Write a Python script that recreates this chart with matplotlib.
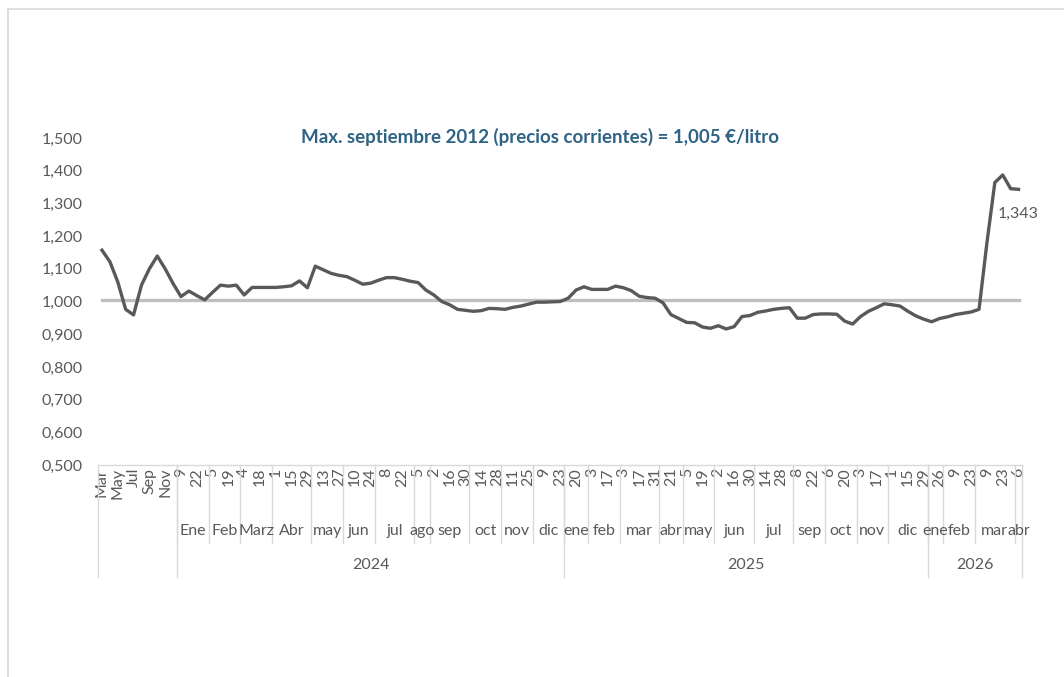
import matplotlib
matplotlib.use("Agg")
import matplotlib.pyplot as plt
from matplotlib.lines import Line2D
import numpy as np

plt.rcParams['font.family'] = ['Lato', 'DejaVu Sans']

# categorias (semanas) agrupadas por mes y por año
pre_labels = ["Mar", "Apr", "May", "Jun", "Jul", "Aug", "Sep", "Oct", "Nov", "Dec"]
month_groups = [
    ("", pre_labels),
    ("Ene", [9, 15, 22, 29]), ("Feb", [5, 12, 19, 26]), ("Marz", [4, 11, 18, 25]),
    ("Abr", [1, 8, 15, 22, 29]), ("may", [6, 13, 20, 27]), ("jun", [3, 10, 17, 24]),
    ("jul", [1, 8, 15, 22, 29]), ("ago", [5, 12]), ("sep", [2, 9, 16, 23, 30]),
    ("oct", [7, 14, 21, 28]), ("nov", [4, 11, 18, 25]), ("dic", [2, 9, 16, 23]),
    ("ene", [13, 20, 27]), ("feb", [3, 10, 17, 24]), ("mar", [3, 10, 17, 24, 31]),
    ("abr", [14, 21, 28]), ("may", [5, 12, 19, 26]), ("jun", [2, 9, 16, 23, 30]),
    ("jul", [7, 14, 21, 28, 4]), ("sep", [8, 15, 22, 29]), ("oct", [6, 13, 20, 27]),
    ("nov", [3, 10, 17, 24]), ("dic", [1, 8, 15, 22, 29]),
    ("ene", [19, 26]), ("feb", [2, 9, 16, 23]), ("mar", [2, 9, 16, 23, 30]), ("abr", [6]),
]
year_groups = [("", 10), ("2024", 49), ("2025", 46), ("2026", 12)]

price = [1.157, 1.122, 1.06, 0.976, 0.959, 1.05, 1.10, 1.139, 1.10, 1.055,
         1.015, 1.032, 1.018, 1.005, 1.028, 1.05, 1.047, 1.05, 1.02, 1.043,
         1.043, 1.043, 1.043, 1.045, 1.048, 1.063, 1.042, 1.108, 1.097, 1.086,
         1.08, 1.076, 1.065, 1.053, 1.056, 1.065, 1.073, 1.073, 1.068, 1.062,
         1.058, 1.035, 1.02, 1.0, 0.99, 0.976, 0.973, 0.970, 0.972, 0.979,
         0.978, 0.976, 0.982, 0.986, 0.992, 0.998, 0.998, 0.999, 1.0, 1.01,
         1.035, 1.045, 1.037, 1.037, 1.037, 1.047, 1.042, 1.033, 1.016, 1.012,
         1.01, 0.996, 0.96, 0.948, 0.936, 0.935, 0.922, 0.918, 0.926, 0.916,
         0.923, 0.954, 0.957, 0.967, 0.971, 0.976, 0.979, 0.981, 0.949, 0.949,
         0.96, 0.962, 0.962, 0.961, 0.94, 0.931, 0.954, 0.97, 0.981, 0.993,
         0.99, 0.986, 0.97, 0.956, 0.946, 0.938, 0.948, 0.953, 0.96, 0.964,
         0.968, 0.976, 1.18, 1.364, 1.387, 1.345, 1.343]
max_2012 = 1.005

day_labels = [str(d) for _, days in month_groups for d in days]
n = len(day_labels)
x = np.arange(n) + 0.5

fig = plt.figure(figsize=(10.64, 6.77), dpi=100)
ax = fig.add_axes([98 / 1064, 1 - 465 / 677, 924.5 / 1064, 327 / 677])

grey = '#595959'
sep_col = '#D9D9D9'
fs = 11.5

ax.plot(x, [max_2012] * n, color='#BFBFBF', lw=2.4, zorder=2)
ax.plot(x, price, color=grey, lw=2.4, solid_joinstyle='round', zorder=3)
ax.annotate(f"{price[-1]:.3f}".replace('.', ','), (x[-1], price[-1]),
            xytext=(0, -18), textcoords='offset points', ha='center', va='center',
            color=grey, fontsize=fs)

ax.set_xlim(0, n)
ax.set_ylim(0.5, 1.5)
ax.set_yticks(np.arange(0.5, 1.51, 0.1))
ax.set_yticklabels([f"{v:.3f}".replace('.', ',') for v in np.arange(0.5, 1.51, 0.1)])
ax.tick_params(axis='y', length=0, pad=11, labelcolor=grey, labelsize=fs)

shown = np.arange(0, n, 2)
ax.set_xticks(x[shown])
ax.set_xticklabels([day_labels[i] for i in shown], rotation=90)
ax.tick_params(axis='x', length=0, pad=2, labelcolor=grey, labelsize=fs)

for s in ['top', 'right', 'left']:
    ax.spines[s].set_visible(False)
ax.spines['bottom'].set_color(sep_col)
ax.spines['bottom'].set_linewidth(1.0)

trans = ax.get_xaxis_transform()
ax_h = 327.0

# separadores y etiquetas de mes
pos = 0
for name, days in month_groups:
    start, end = pos, pos + len(days)
    if name:
        ax.plot([start, start], [0, -78 / ax_h], transform=trans, color=sep_col,
                lw=1.0, clip_on=False)
        ax.text((start + end) / 2, -66 / ax_h, name, transform=trans, ha='center',
                va='center', color=grey, fontsize=fs)
    pos = end

# separadores y etiquetas de año
pos = 0
for name, cnt in year_groups:
    ax.plot([pos, pos], [0, -112 / ax_h], transform=trans, color=sep_col,
            lw=1.0, clip_on=False)
    if name:
        ax.text(pos + cnt / 2, -100 / ax_h, name, transform=trans, ha='center',
                va='center', color=grey, fontsize=fs)
    pos += cnt
ax.plot([pos, pos], [0, -112 / ax_h], transform=trans, color=sep_col,
        lw=1.0, clip_on=False)

fig.text(540 / 1064, 1 - 137 / 677, "Max. septiembre 2012 (precios corrientes) = 1,005 €/litro",
         ha='center', va='center', color='#2E6384', fontsize=13.5, fontweight='bold')

# marco exterior del grafico
fig.add_artist(Line2D([7.5 / 1064, 7.5 / 1064], [0, 1 - 9 / 677], color=sep_col, lw=1.2))
fig.add_artist(Line2D([7.5 / 1064, 1], [1 - 9 / 677, 1 - 9 / 677], color=sep_col, lw=1.2))

fig.savefig('out.png', dpi=100)
